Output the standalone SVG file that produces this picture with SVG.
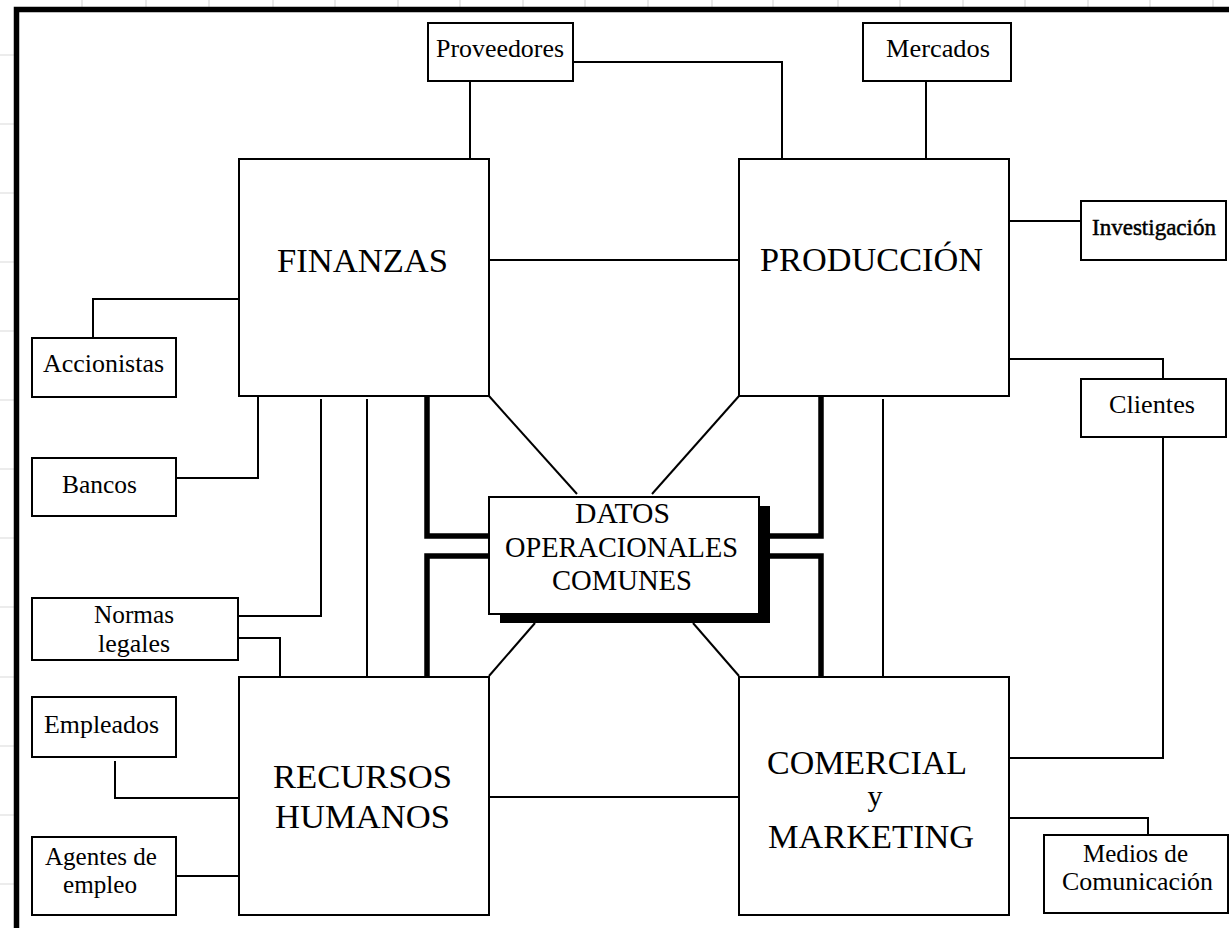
<svg xmlns="http://www.w3.org/2000/svg" width="1229" height="928" viewBox="0 0 1229 928">
<style>
.grid{stroke:#d9d9d9;stroke-width:1.2}
.box{fill:#fff;stroke:#000;stroke-width:2}
.ln{fill:none;stroke:#000;stroke-width:2}
.thick{fill:none;stroke:#000;stroke-width:5.5;stroke-linejoin:miter}
.s{font-family:"Liberation Serif","Times New Roman",serif;font-size:26px;fill:#000;text-anchor:middle}
.b{font-family:"Liberation Serif","Times New Roman",serif;font-size:34px;fill:#000;text-anchor:middle}
</style>
<rect x="0" y="0" width="1229" height="928" fill="#fff"/>
<g id="grid">
<path class="grid" d="M82 0V7M146 0V7M209 0V7M273 0V7M335 0V7M398 0V7M460 0V7M523 0V7M585 0V7M648 0V7M712 0V7M773 0V7M838 0V7M900 0V7M963 0V7M1025 0V7M1088 0V7M1150 0V7M1213 0V7"/>
<path class="grid" d="M0 55H14M0 124H14M0 193H14M0 262H14M0 331H14M0 400H14M0 469H14M0 538H14M0 607H14M0 677H14M0 746H14M0 815H14M0 884H14"/>
</g>
<rect id="frame" x="16.5" y="9.5" width="1300" height="1000" fill="#fff" stroke="#000" stroke-width="5.5"/>
<g id="connectors">
<path class="ln" d="M470 81V159"/>
<path class="ln" d="M573 62H782V159"/>
<path class="ln" d="M926 81V159"/>
<path class="ln" d="M1009 221H1081"/>
<path class="ln" d="M1009 359H1163V379"/>
<path class="ln" d="M1163 437V758H1009"/>
<path class="ln" d="M489 260H739"/>
<path class="ln" d="M489 797H739"/>
<path class="ln" d="M93 338V299H239"/>
<path class="ln" d="M176 478H258V396"/>
<path class="ln" d="M238 616H321V399"/>
<path class="ln" d="M238 638H280V677"/>
<path class="ln" d="M367 399V677"/>
<path class="ln" d="M883 399V677"/>
<path class="ln" d="M115 761V798H239"/>
<path class="ln" d="M176 876H239"/>
<path class="ln" d="M1009 818H1148V835"/>
<path class="ln" d="M489 396L577 494"/>
<path class="ln" d="M739 396L652 494"/>
<path class="ln" d="M535 623L489 676"/>
<path class="ln" d="M693 623L739 676"/>
<path class="thick" d="M427 396V536H489"/>
<path class="thick" d="M489 556H427V677"/>
<path class="thick" d="M821 396V536H770"/>
<path class="thick" d="M770 556H821V677"/>
</g>
<g id="finanzas">
<rect class="box" x="239" y="159" width="250" height="237"/>
<text class="b" x="362.5" y="272" textLength="171" lengthAdjust="spacingAndGlyphs">FINANZAS</text>
</g>
<g id="produccion">
<rect class="box" x="739" y="159" width="270" height="237"/>
<text class="b" x="871.5" y="271" textLength="223" lengthAdjust="spacingAndGlyphs">PRODUCCIÓN</text>
</g>
<g id="recursos-humanos">
<rect class="box" x="239" y="677" width="250" height="238"/>
<text class="b" x="362.5" y="788" textLength="179" lengthAdjust="spacingAndGlyphs">RECURSOS</text>
<text class="b" x="362.5" y="828" textLength="175" lengthAdjust="spacingAndGlyphs">HUMANOS</text>
</g>
<g id="comercial">
<rect class="box" x="739" y="677" width="270" height="238"/>
<text class="b" x="867" y="774" textLength="200" lengthAdjust="spacingAndGlyphs">COMERCIAL</text>
<text class="b" style="font-size:30px" x="875" y="806">y</text>
<text class="b" x="871" y="848" textLength="206" lengthAdjust="spacingAndGlyphs">MARKETING</text>
</g>
<g id="datos">
<rect x="500" y="506" width="270" height="117" fill="#000"/>
<rect class="box" x="489" y="497" width="270" height="117"/>
<text class="b" style="font-size:28.5px" x="622.5" y="523" textLength="95" lengthAdjust="spacingAndGlyphs">DATOS</text>
<text class="b" style="font-size:28.5px" x="621.5" y="557" textLength="233" lengthAdjust="spacingAndGlyphs">OPERACIONALES</text>
<text class="b" style="font-size:28.5px" x="622" y="590" textLength="140" lengthAdjust="spacingAndGlyphs">COMUNES</text>
</g>
<g id="proveedores">
<rect class="box" x="428" y="23" width="145" height="58"/>
<text class="s" x="500" y="57" textLength="128" lengthAdjust="spacingAndGlyphs">Proveedores</text>
</g>
<g id="mercados">
<rect class="box" x="863" y="23" width="148" height="58"/>
<text class="s" x="938" y="57" textLength="104" lengthAdjust="spacingAndGlyphs">Mercados</text>
</g>
<g id="investigacion">
<rect class="box" x="1081" y="201" width="145" height="59"/>
<text class="s" style="font-size:24px;stroke:#000;stroke-width:0.5" x="1154" y="235" textLength="124" lengthAdjust="spacingAndGlyphs">Investigación</text>
</g>
<g id="clientes">
<rect class="box" x="1081" y="379" width="145" height="58"/>
<text class="s" x="1152" y="413" textLength="86" lengthAdjust="spacingAndGlyphs">Clientes</text>
</g>
<g id="accionistas">
<rect class="box" x="32" y="338" width="144" height="59"/>
<text class="s" x="103.5" y="372" textLength="121" lengthAdjust="spacingAndGlyphs">Accionistas</text>
</g>
<g id="bancos">
<rect class="box" x="32" y="458" width="144" height="58"/>
<text class="s" x="99.5" y="493" textLength="75" lengthAdjust="spacingAndGlyphs">Bancos</text>
</g>
<g id="normas-legales">
<rect class="box" x="32" y="598" width="206" height="62"/>
<text class="s" x="134" y="623" textLength="80" lengthAdjust="spacingAndGlyphs">Normas</text>
<text class="s" x="134" y="652" textLength="72" lengthAdjust="spacingAndGlyphs">legales</text>
</g>
<g id="empleados">
<rect class="box" x="32" y="697" width="144" height="60"/>
<text class="s" x="101.5" y="733" textLength="115" lengthAdjust="spacingAndGlyphs">Empleados</text>
</g>
<g id="agentes">
<rect class="box" x="32" y="837" width="144" height="78"/>
<text class="s" x="101" y="865" textLength="112" lengthAdjust="spacingAndGlyphs">Agentes de</text>
<text class="s" x="100" y="893" textLength="74" lengthAdjust="spacingAndGlyphs">empleo</text>
</g>
<g id="medios">
<rect class="box" x="1044" y="835" width="184" height="78"/>
<text class="s" x="1135.5" y="862" textLength="105" lengthAdjust="spacingAndGlyphs">Medios de</text>
<text class="s" x="1137.5" y="890" textLength="151" lengthAdjust="spacingAndGlyphs">Comunicación</text>
</g>
</svg>
